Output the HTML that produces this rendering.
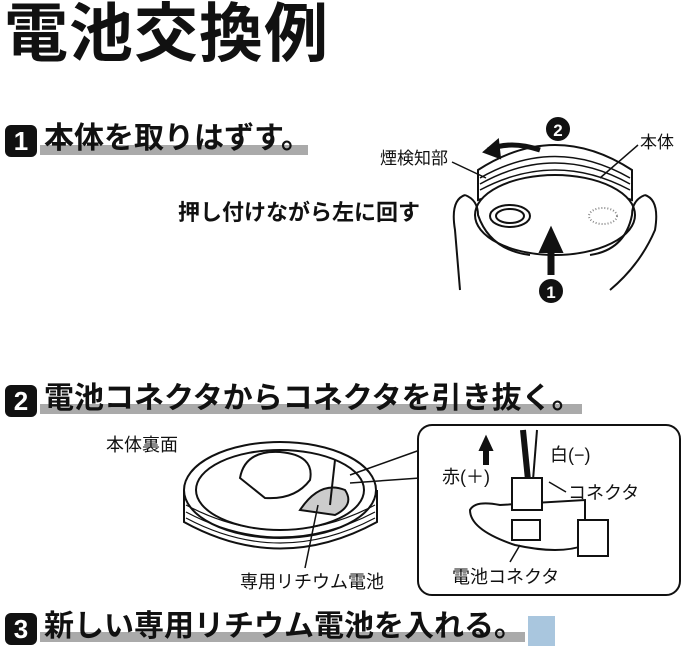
<!DOCTYPE html>
<html><head><meta charset="utf-8"><style>
body{margin:0;width:688px;height:650px;background:#fff;position:relative;overflow:hidden;font-family:"Liberation Sans","Noto Sans CJK JP",sans-serif;color:#111}
.t{position:absolute;white-space:nowrap;line-height:1;z-index:2}
.b{font-weight:bold}
.num{position:absolute;width:32px;height:32px;background:#111;border-radius:6px;color:#fff;font-weight:bold;font-size:26px;text-align:center;line-height:32px;z-index:2}
.bar{position:absolute;background:#aaa;height:10px;z-index:1}
svg{z-index:0}
</style></head><body>
<svg width="688" height="650" style="position:absolute;left:0;top:0" fill="none" stroke="#111" stroke-width="2">
<!-- detector 1 -->
<path d="M478 170 Q555 120 632 170 L632 200 Q555 175 478 200 Z" fill="#fff"/>
<path d="M480 178 Q555 135 630 178" stroke-width="1.5"/>
<path d="M480 184 Q555 142 630 184" stroke-width="1.5"/>
<path d="M480 190 Q555 150 630 190" stroke-width="1.5"/>
<ellipse cx="555" cy="215" rx="80" ry="40" fill="#fff"/>
<ellipse cx="510" cy="216" rx="20" ry="11"/>
<ellipse cx="510" cy="216" rx="14" ry="7"/>
<ellipse cx="603" cy="216" rx="14" ry="8" stroke="#888" stroke-dasharray="1 2"/>
<path d="M465 195 Q450 200 455 230 L460 290" />
<path d="M465 195 Q478 200 478 215 Q490 250 530 255"/>
<path d="M645 195 Q660 200 655 230 Q640 265 610 290"/>
<path d="M645 195 Q632 200 632 215 Q625 250 590 255"/>
<path d="M540 150 Q510 140 488 150" stroke-width="5"/>
<polygon points="484,152 498,140 500,158" fill="#111"/>
<circle cx="558" cy="129" r="11" fill="#111"/>
<text x="558" y="136" fill="#fff" stroke="none" font-size="17" font-weight="bold" text-anchor="middle">2</text>
<line x1="551" y1="275" x2="551" y2="248" stroke-width="7"/>
<polygon points="540,252 551,228 562,252" fill="#111"/>
<circle cx="551" cy="291" r="11" fill="#111"/>
<text x="551" y="298" fill="#fff" stroke="none" font-size="17" font-weight="bold" text-anchor="middle">1</text>
<line x1="452" y1="162" x2="486" y2="178" stroke-width="1.5"/>
<line x1="638" y1="145" x2="600" y2="178" stroke-width="1.5"/>
<!-- detector 2 -->
<path d="M184 490 L184 522 Q280 575 377 522 L377 490" fill="#fff"/>
<ellipse cx="280" cy="490" rx="96" ry="48" fill="#fff"/>
<ellipse cx="280" cy="490" rx="84" ry="40"/>
<path d="M186 505 Q280 555 375 505" stroke-width="1.2"/>
<path d="M186 512 Q280 562 375 512" stroke-width="1.2"/>
<path d="M186 518 Q280 568 375 518" stroke-width="1.2"/>
<path d="M240 478 Q245 450 280 452 Q315 455 310 480 Q295 500 265 498 Z"/>
<path d="M300 510 Q320 480 345 490 Q355 505 335 515 Z" fill="#ccc"/>
<line x1="335" y1="460" x2="330" y2="505"/>
<line x1="318" y1="505" x2="305" y2="568" stroke-width="1.5"/>
<line x1="350" y1="475" x2="420" y2="450" stroke-width="1.5"/>
<line x1="350" y1="483" x2="420" y2="478" stroke-width="1.5"/>
<!-- inset -->
<rect x="418" y="425" width="262" height="170" rx="14" fill="#fff"/>
<line x1="523" y1="430" x2="528" y2="480" stroke-width="6"/>
<line x1="537" y1="430" x2="533" y2="480" stroke-width="2"/>
<path d="M470 510 Q475 500 500 505 L585 500 L585 545 Q560 555 515 545 Q470 530 470 510 Z" fill="#fff"/>
<rect x="512" y="478" width="30" height="32" fill="#fff"/>
<line x1="486" y1="465" x2="486" y2="448" stroke-width="6"/>
<polygon points="480,450 486,437 492,450" fill="#111"/>
<rect x="512" y="520" width="28" height="20"/>
<rect x="578" y="520" width="30" height="36" fill="#fff"/>
<line x1="566" y1="492" x2="549" y2="482" stroke-width="1.5"/>
<line x1="510" y1="562" x2="520" y2="545" stroke-width="1.5"/>
</svg>

<div class="t b" style="left:4px;top:2px;font-size:64px;letter-spacing:1px">電池交換例</div>

<div class="bar" style="left:40px;top:145px;width:268px"></div>
<div class="num" style="left:5px;top:125px">1</div>
<div class="t b" style="left:44px;top:124px;font-size:30px">本体を取りはずす。</div>

<div class="bar" style="left:40px;top:404px;width:542px"></div>
<div class="num" style="left:5px;top:385px">2</div>
<div class="t b" style="left:44px;top:384px;font-size:30px">電池コネクタからコネクタを引き抜く。</div>

<div class="bar" style="left:40px;top:632px;width:485px"></div>
<div class="num" style="left:5px;top:613px">3</div>
<div class="t b" style="left:44px;top:612px;font-size:30px">新しい専用リチウム電池を入れる。</div>
<div style="position:absolute;left:528px;top:616px;width:27px;height:30px;background:#a9c6de"></div>

<div class="t b" style="left:178px;top:202px;font-size:22px">押し付けながら左に回す</div>
<div class="t" style="left:380px;top:150px;font-size:17px">煙検知部</div>
<div class="t" style="left:640px;top:134px;font-size:17px">本体</div>
<div class="t" style="left:106px;top:436px;font-size:18px">本体裏面</div>
<div class="t" style="left:240px;top:573px;font-size:18px">専用リチウム電池</div>
<div class="t" style="left:550px;top:446px;font-size:18px">白(−)</div>
<div class="t" style="left:442px;top:468px;font-size:18px">赤(＋)</div>
<div class="t" style="left:568px;top:484px;font-size:18px">コネクタ</div>
<div class="t" style="left:452px;top:568px;font-size:18px">電池コネクタ</div>
</body></html>
